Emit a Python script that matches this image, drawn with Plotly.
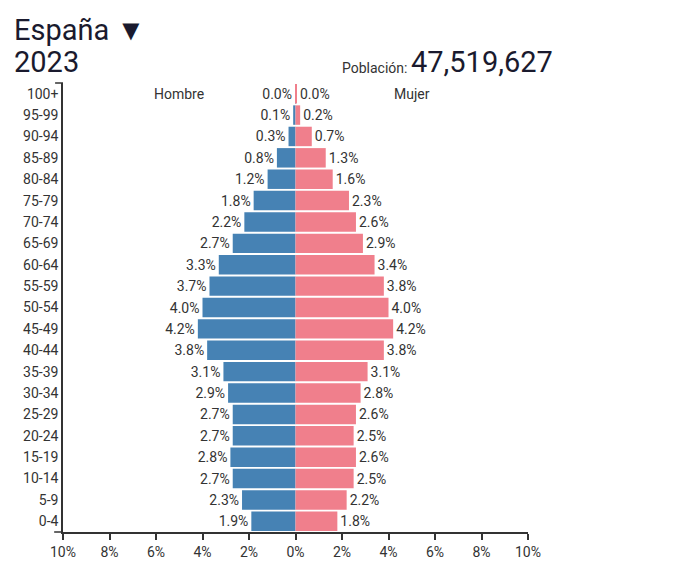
import plotly.graph_objects as go

age_groups = ["0-4", "5-9", "10-14", "15-19", "20-24", "25-29", "30-34", "35-39",
              "40-44", "45-49", "50-54", "55-59", "60-64", "65-69", "70-74", "75-79",
              "80-84", "85-89", "90-94", "95-99", "100+"]
male = [1.9, 2.3, 2.7, 2.8, 2.7, 2.7, 2.9, 3.1, 3.8, 4.2, 4.0, 3.7, 3.3, 2.7, 2.2, 1.8,
        1.2, 0.8, 0.3, 0.1, 0.02]
female = [1.8, 2.2, 2.5, 2.6, 2.5, 2.6, 2.8, 3.1, 3.8, 4.2, 4.0, 3.8, 3.4, 2.9, 2.6, 2.3,
          1.6, 1.3, 0.7, 0.2, 0.04]
x_tickvals = [-10, -8, -6, -4, -2, 0, 2, 4, 6, 8, 10]
x_ticktext = ["10%", "8%", "6%", "4%", "2%", "0%", "2%", "4%", "6%", "8%", "10%"]
country = "España"
year = "2023"
population = "47,519,627"

BLUE = "#4682b4"
PINK = "#f07f8c"
TXT = "#333333"
DARK = "#1a1a2e"
FONT = "Roboto"

fig = go.Figure()
fig.add_trace(go.Bar(
    y=age_groups, x=[-v for v in male], orientation="h", name="Hombre",
    marker=dict(color=BLUE, line=dict(width=0)),
    text=[f"{v:.1f}%" for v in male], textposition="outside",
    textfont=dict(size=14, color=TXT, family=FONT), cliponaxis=False,
    hoverinfo="skip",
))
fig.add_trace(go.Bar(
    y=age_groups, x=female, orientation="h", name="Mujer",
    marker=dict(color=PINK, line=dict(width=0)),
    text=[f"{v:.1f}%" for v in female], textposition="outside",
    textfont=dict(size=14, color=TXT, family=FONT), cliponaxis=False,
    hoverinfo="skip",
))

fig.update_layout(
    width=672, height=564,
    margin=dict(l=55, r=152, t=75, b=33),
    paper_bgcolor="white", plot_bgcolor="white",
    barmode="overlay", bargap=0.09,
    showlegend=False,
    font=dict(family=FONT, color=TXT, size=14),
    xaxis=dict(
        range=[-10, 10], tickvals=x_tickvals, ticktext=x_ticktext,
        showgrid=False, zeroline=False, showline=True, linecolor=TXT, linewidth=1.5,
        ticks="outside", ticklen=6, tickwidth=1.5, tickcolor=TXT,
        tickfont=dict(size=14, color=TXT, family=FONT), fixedrange=True,
    ),
    yaxis=dict(
        categoryorder="array", categoryarray=age_groups,
        range=[-0.5, 20.5],
        showgrid=False, zeroline=False, showline=True, linecolor=TXT, linewidth=1.5,
        ticks="", ticklen=0, ticklabelstandoff=0,
        tickfont=dict(size=14, color=TXT, family=FONT), fixedrange=True,
    ),
)

# axis bracket ends (d3-style outer ticks)
fig.add_shape(type="line", xref="paper", yref="y domain", x0=-0.017, x1=0, y0=1, y1=1,
              line=dict(color=TXT, width=1.5))
fig.add_shape(type="line", xref="paper", yref="y domain", x0=-0.019, x1=0, y0=0, y1=0,
              line=dict(color=TXT, width=1.5))

fig.add_annotation(x=-5, y="100+", xref="x", yref="y", text="Hombre", showarrow=False,
                   font=dict(size=14, color=TXT, family=FONT))
fig.add_annotation(x=5, y="100+", xref="x", yref="y", text="Mujer", showarrow=False,
                   font=dict(size=14, color=TXT, family=FONT))

fig.add_annotation(xref="paper", yref="paper", x=-0.1097, y=1.118, xanchor="left", yanchor="middle",
                   text=f"{country} ▼", showarrow=False,
                   font=dict(size=29, color=DARK, family=FONT))
fig.add_annotation(xref="paper", yref="paper", x=-0.1097, y=1.046, xanchor="left", yanchor="middle",
                   text=year, showarrow=False,
                   font=dict(size=29, color=DARK, family=FONT))
fig.add_annotation(xref="paper", yref="paper", x=0.744, y=1.033, xanchor="right", yanchor="middle",
                   text="Población:", showarrow=False,
                   font=dict(size=14, color=TXT, family=FONT))
fig.add_annotation(xref="paper", yref="paper", x=0.744, y=1.046, xanchor="left", yanchor="middle",
                   text=population, showarrow=False,
                   font=dict(size=29, color=DARK, family=FONT))

fig.write_html("out.html")
